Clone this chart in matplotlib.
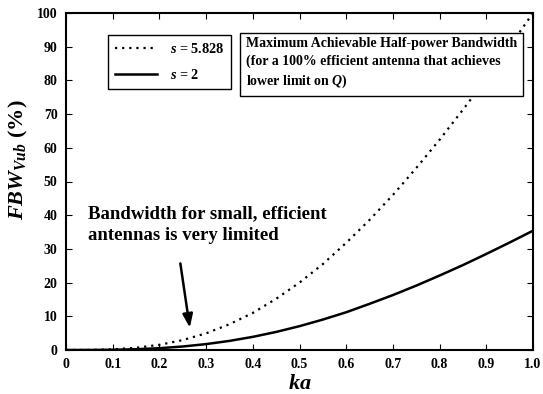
import numpy as np
import matplotlib.pyplot as plt

plt.rcParams['font.family'] = 'Liberation Serif'
plt.rcParams['font.weight'] = 'bold'
plt.rcParams['mathtext.fontset'] = 'custom'
plt.rcParams['mathtext.rm'] = 'Liberation Serif:bold'
plt.rcParams['mathtext.it'] = 'Liberation Serif:bold:italic'
plt.rcParams['mathtext.bf'] = 'Liberation Serif:bold'

# values (percent)
ka = [0.0, 0.05, 0.1, 0.15, 0.2, 0.25, 0.3, 0.35, 0.4, 0.45, 0.5,
      0.55, 0.6, 0.65, 0.7, 0.75, 0.8, 0.85, 0.9, 0.95, 1.0]
fbw_s5828 = [0.0, 0.02, 0.2, 0.66, 1.54, 2.94, 4.95, 7.64, 11.0, 15.2, 20.0,
             25.5, 31.8, 38.6, 46.0, 54.0, 62.4, 71.3, 80.5, 90.1, 100.0]
fbw_s2 = [0.0, 0.01, 0.07, 0.23, 0.54, 1.04, 1.75, 2.70, 3.90, 5.36, 7.07,
          9.03, 11.2, 13.7, 16.3, 19.1, 22.1, 25.2, 28.5, 31.9, 35.4]
xticks = [0, 0.1, 0.2, 0.3, 0.4, 0.5, 0.6, 0.7, 0.8, 0.9, 1.0]
xlabels = ['0', '0.1', '0.2', '0.3', '0.4', '0.5', '0.6', '0.7', '0.8', '0.9', '1.0']
yticks = [0, 10, 20, 30, 40, 50, 60, 70, 80, 90, 100]

fig = plt.figure(figsize=(5.43, 3.94), dpi=100)
ax = fig.add_axes([66/543, 44/394, 467/543, 337/394])

ax.plot(ka, fbw_s5828, color='black', lw=1.6, linestyle=(0, (1, 2.2)), label='$s$ = 5.828')
ax.plot(ka, fbw_s2, color='black', lw=1.8, label='$s$ = 2')

ax.set_xlim(0, 1)
ax.set_ylim(0, 100)
ax.set_xticks(xticks)
ax.set_xticklabels(xlabels)
ax.set_yticks(yticks)
ax.tick_params(direction='in', top=True, right=True, length=4, labelsize=10, pad=6)
for lab in ax.get_xticklabels() + ax.get_yticklabels():
    lab.set_fontweight('bold')
for sp in ax.spines.values():
    sp.set_linewidth(1.5)

ax.set_xlabel('$ka$', fontsize=16, fontweight='bold', labelpad=2)
ax.set_ylabel('$FBW_{Vub}$ (%)', fontsize=16, fontweight='bold')
ax.yaxis.set_label_coords(-0.077, 0.565)

leg = ax.legend(loc='upper left', bbox_to_anchor=(0.09, 0.935), fancybox=False,
                edgecolor='black', framealpha=1, fontsize=10.3, handlelength=2.9,
                borderpad=0.5, labelspacing=0.85, handletextpad=0.9, borderaxespad=0)
leg.get_frame().set_linewidth(1.0)

ax.text(0.385, 0.929, 'Maximum Achievable Half-power Bandwidth\n'
        '(for a 100% efficient antenna that achieves\n'
        'lower limit on $Q$)',
        transform=ax.transAxes, fontsize=10, va='top', ha='left', linespacing=1.42,
        bbox=dict(boxstyle='square,pad=0.45', fc='white', ec='black', lw=1.0))

ax.text(0.047, 0.43, 'Bandwidth for small, efficient\nantennas is very limited',
        transform=ax.transAxes, fontsize=13.5, va='top', ha='left', linespacing=1.4)
ax.annotate('', xy=(0.266, 5.8), xytext=(0.244, 26.5),
            arrowprops=dict(arrowstyle='-|>,head_length=0.8,head_width=0.3',
                            color='black', lw=1.8))

fig.savefig('out.png', dpi=100)
